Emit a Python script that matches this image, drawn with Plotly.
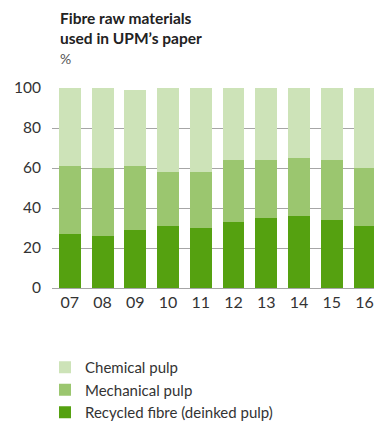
import plotly.graph_objects as go

years = ["07", "08", "09", "10", "11", "12", "13", "14", "15", "16"]
recycled = [27, 26, 29, 31, 30, 33, 35, 36, 34, 31]
mechanical = [34, 34, 32, 27, 28, 31, 29, 29, 30, 29]
chemical = [39, 40, 38, 42, 42, 36, 36, 35, 36, 40]

series = [
    ("Recycled fibre (deinked pulp)", recycled, "#55a110"),
    ("Mechanical pulp", mechanical, "#9bc66f"),
    ("Chemical pulp", chemical, "#cde3b8"),
]

FONT = "Lato, Open Sans, sans-serif"

fig = go.Figure()
for name, vals, col in series:
    fig.add_trace(go.Bar(x=years, y=vals, name=name, marker=dict(color=col, line=dict(width=0)),
                         width=0.665))

fig.add_annotation(
    text="<b>Fibre raw materials<br>used in UPM’s paper</b><br><span style='color:#555;font-size:14px'>%</span>",
    xref="paper", yref="paper", x=(58 - 52) / 322, y=1 + (88 - 7) / 200,
    xanchor="left", yanchor="top", align="left", showarrow=False,
    font=dict(family=FONT, size=15.5, color="#222222"),
)

fig.update_layout(
    width=374, height=422,
    margin=dict(l=52, r=0, t=88, b=134, pad=0, autoexpand=False),
    barmode="stack",
    plot_bgcolor="white", paper_bgcolor="white",
    font=dict(family=FONT, size=14, color="#333333"),
    xaxis=dict(
        type="category", range=[-0.546, 9.29], showgrid=False, zeroline=False,
        showline=False, ticks="", tickangle=0, ticklabelstandoff=3,
        tickfont=dict(size=16, color="#333333"),
    ),
    yaxis=dict(
        range=[0, 100], tickvals=[0, 20, 40, 60, 80, 100], showgrid=True,
        gridcolor="#a6a6a6", gridwidth=1, zeroline=True, zerolinecolor="#a6a6a6",
        zerolinewidth=1, ticks="", ticklabelstandoff=10,
        tickfont=dict(size=15.5, color="#333333"),
    ),
    showlegend=True,
    legend=dict(
        traceorder="reversed", orientation="v",
        x=45 / 374, xref="container", xanchor="left",
        y=1 - 351 / 422, yref="container", yanchor="top",
        font=dict(size=15, color="#333333"),
        bgcolor="rgba(0,0,0,0)", itemclick=False,
    ),
)

fig.write_html("out.html")
